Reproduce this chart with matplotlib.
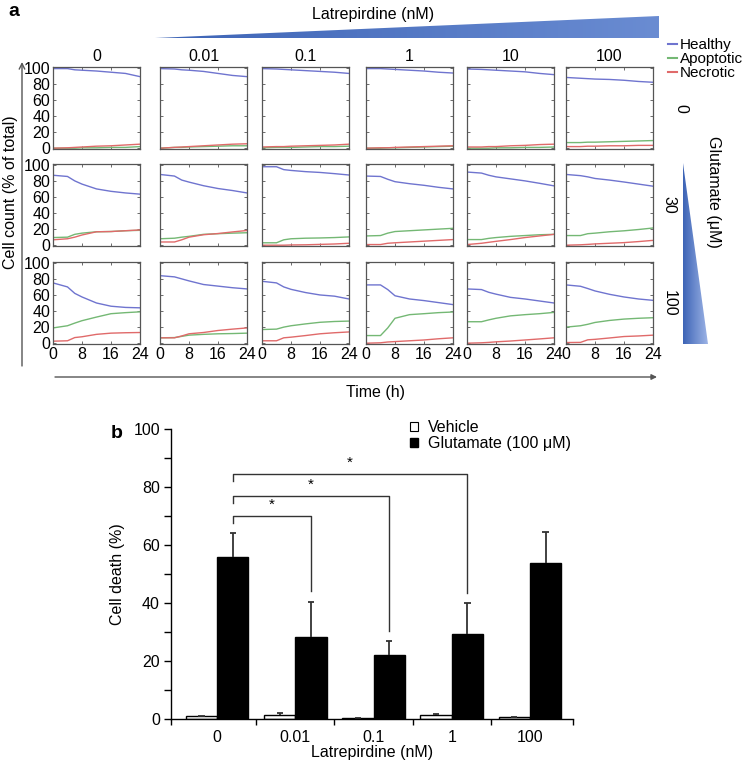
import numpy as np
import matplotlib
matplotlib.use('Agg')
import matplotlib.pyplot as plt
from matplotlib.patches import Polygon, Patch
from matplotlib.lines import Line2D
from matplotlib.colors import LinearSegmentedColormap

plt.rcParams['font.family'] = ['Liberation Sans', 'DejaVu Sans']

# ---- panel a data: % of cells over time ----
times = [0, 4, 6, 8, 12, 16, 20, 24]
latrepirdine_labels = ['0', '0.01', '0.1', '1', '10', '100']
glutamate_labels = ['0', '30', '100']

healthy_glu0 = [
    [99, 99, 97.5, 97, 96, 94.5, 93, 89],
    [99, 98.5, 97.5, 97, 95.5, 93, 90.5, 89],
    [99, 98.5, 98, 97.5, 96.5, 95.5, 94.5, 93],
    [99, 99, 98.5, 98, 97, 96, 94.5, 93.5],
    [98.5, 98, 97.5, 97, 96, 95, 93, 91.5],
    [88, 87, 86.5, 86, 85.5, 84.5, 83, 82],
]
apoptotic_glu0 = [
    [0, 0, 0, 0.5, 0.5, 1, 1, 2],
    [0, 1, 1, 1.5, 2, 2.5, 3, 3],
    [0.5, 1, 1, 1, 1.5, 2, 2, 2.5],
    [0, 0, 0.5, 0.5, 1, 1.5, 2, 2.5],
    [0, 0, 0, 0.5, 0.5, 1, 1, 1.5],
    [7, 7, 7.5, 7.5, 8, 8.5, 9, 9.5],
]
necrotic_glu0 = [
    [0, 0.5, 1, 1.5, 2.5, 3, 4, 5],
    [0, 1, 1.5, 2, 3, 4, 5, 5.5],
    [1.5, 2, 2, 2.5, 3, 3.5, 4, 5],
    [0, 0.5, 0.5, 1, 1.5, 2, 2.5, 3],
    [1.5, 1.5, 2, 2, 3, 3.5, 4.5, 5],
    [2, 2, 2.5, 2.5, 3, 3, 3.5, 3.5],
]

healthy_glu30 = [
    [87, 85.5, 80, 76, 70, 67, 65, 63.5],
    [88, 86, 81, 78.5, 74, 70.5, 68, 65],
    [97.6, 97.6, 94, 93, 91.5, 90.5, 89, 87.3],
    [86, 85.5, 82, 79, 76.5, 74.5, 72, 70],
    [91, 89.7, 87, 85, 82.5, 80, 77, 73.8],
    [88, 86.5, 85, 83, 81, 78.6, 76, 73.4],
]
apoptotic_glu30 = [
    [9.5, 10, 13.5, 15, 16.7, 17, 18, 18.5],
    [8, 8.7, 10, 11, 13.5, 14.3, 15, 15.5],
    [3, 3, 6.7, 8, 8.7, 9, 9.5, 10.3],
    [11.5, 12, 15, 17, 18, 19, 20, 21],
    [7, 7, 8.5, 9.5, 11, 12, 13, 13.5],
    [12, 12, 14.3, 15, 16.7, 17.9, 19.5, 21.4],
]
necrotic_glu30 = [
    [6.7, 8, 10, 12.7, 16.7, 17, 18, 19],
    [4, 4, 6.7, 10, 13, 14.5, 16.5, 18.3],
    [0, 0, 0, 0.3, 0.5, 1, 1.5, 2.4],
    [0.8, 0.8, 2.4, 3, 4, 5, 6, 7],
    [0.8, 2.4, 3.6, 4.8, 7, 9.5, 11.5, 13.5],
    [0, 0.5, 1, 1.6, 2.4, 3.2, 4.5, 6],
]

healthy_glu100 = [
    [75, 70, 62, 57.5, 50, 46, 44.5, 44],
    [84, 82.5, 80, 77.5, 73, 71, 69, 67.5],
    [77, 75, 70, 67, 63, 60, 58.5, 55],
    [72.5, 72.5, 66.7, 59, 55, 53, 50.5, 48],
    [67.5, 66.7, 63.3, 61, 57, 55, 52.5, 50],
    [72.5, 70.8, 68, 65, 60.8, 57.5, 55, 53.3],
]
apoptotic_glu100 = [
    [19, 21.7, 25, 28, 32.5, 36.7, 38, 39],
    [6.7, 7, 8.5, 10, 11, 11.7, 12, 12.5],
    [17, 17.5, 20, 21.7, 24, 26, 27, 27.5],
    [9.5, 9.5, 19, 31, 35.5, 36.7, 38, 38.8],
    [26.7, 26.7, 29, 31, 34, 35.5, 36.7, 38.3],
    [20, 21.7, 23.5, 25.8, 28.3, 30, 31, 31.7],
]
necrotic_glu100 = [
    [2.5, 3, 7, 8, 11, 12.5, 13, 13.3],
    [6.7, 6.7, 9, 11.7, 13.3, 15.8, 17.5, 19],
    [3, 3, 6.7, 7.5, 9.5, 11.7, 13, 14],
    [0, 0.5, 1.5, 2, 3, 4, 5.5, 6.7],
    [0, 0.5, 1, 1.7, 2.7, 4, 5.3, 6.7],
    [0.8, 1, 4.2, 4.8, 6.5, 8.3, 9, 10],
]

# ---- panel b data: cell death (%) ----
b_labels = ['0', '0.01', '0.1', '1', '100']
vehicle_mean = [1.0, 1.3, 0.5, 1.3, 0.8]
vehicle_err = [0, 0.7, 0, 0.4, 0]
glutamate_mean = [56.0, 28.3, 22.1, 29.3, 53.9]
glutamate_err = [8.2, 12.2, 4.9, 10.7, 10.6]
sig_pairs = [(0, 1), (0, 2), (0, 3)]

healthy = [healthy_glu0, healthy_glu30, healthy_glu100]
apoptotic = [apoptotic_glu0, apoptotic_glu30, apoptotic_glu100]
necrotic = [necrotic_glu0, necrotic_glu30, necrotic_glu100]

W, H = 751, 763
fig = plt.figure(figsize=(W / 100, H / 100), dpi=100)


def px_axes(x0, y0, x1, y1, **kw):
    # axes from pixel box (top-left origin)
    return fig.add_axes([x0 / W, 1 - y1 / H, (x1 - x0) / W, (y1 - y0) / H], **kw)


# background overlay for decorations
bg = fig.add_axes([0, 0, 1, 1], zorder=-1)
bg.axis('off')

c_h, c_a, c_n = '#6f74cf', '#74b874', '#e06a6a'
spine_c = '#555555'

col_x = [53, 160, 262, 366, 467, 566]
row_y = [67, 164, 262]
row_label_x = [681, 669, 669]
pw, ph = 87, 82

for r in range(3):
    for c in range(6):
        ax = px_axes(col_x[c], row_y[r], col_x[c] + pw, row_y[r] + ph)
        ax.plot(times, healthy[r][c], color=c_h, lw=1.0)
        ax.plot(times, apoptotic[r][c], color=c_a, lw=1.0)
        ax.plot(times, necrotic[r][c], color=c_n, lw=1.0)
        ax.set_xlim(0, 24)
        ax.set_ylim(-1, 101)
        ax.set_xticks([0, 8, 16, 24])
        ax.set_yticks([0, 20, 40, 60, 80, 100])
        ax.tick_params(direction='in', length=2, width=0.6, colors=spine_c,
                       labelcolor='black', labelsize=11.5, pad=2,
                       top=True, right=True)
        if c != 0:
            ax.set_yticklabels([])
        if r != 2:
            ax.set_xticklabels([])
        for s in ax.spines.values():
            s.set_color(spine_c)
            s.set_linewidth(0.9)
        if r == 0:
            ax.set_title(latrepirdine_labels[c], fontsize=11.5, pad=4)
    fig.text(row_label_x[r] / W, 1 - (row_y[r] + ph / 2) / H, glutamate_labels[r],
             rotation=-90, ha='center', va='center', fontsize=11.5)

# panel a legend
fig.legend([Line2D([], [], color=c_h), Line2D([], [], color=c_a),
            Line2D([], [], color=c_n)],
           ['Healthy', 'Apoptotic', 'Necrotic'],
           loc='upper left', bbox_to_anchor=(668 / W, 1 - 38 / H),
           frameon=False, fontsize=11, handlelength=0.6, handletextpad=0.2,
           labelspacing=0.0, borderpad=0, borderaxespad=0)

# wedges
wedge_top = Polygon([(155, 38), (659, 38), (659, 16)], closed=True,
                    facecolor='none', edgecolor='none')
bg.add_patch(wedge_top)
g = np.linspace(0, 1, 256).reshape(1, -1)
im1 = bg.imshow(g, extent=[155, 659, 38, 16], aspect='auto',
                cmap=LinearSegmentedColormap.from_list('w1', ['#3d64b6', '#6a8cd2']))
im1.set_clip_path(wedge_top)

wedge_side = Polygon([(683, 163), (683, 344), (708, 344)], closed=True,
                     facecolor='none', edgecolor='none')
bg.add_patch(wedge_side)
im2 = bg.imshow(g, extent=[683, 708, 344, 163], aspect='auto',
                cmap=LinearSegmentedColormap.from_list('w2', ['#3d64b6', '#9db4e6']))
im2.set_clip_path(wedge_side)
bg.set_xlim(0, W)
bg.set_ylim(H, 0)

# arrows
bg.annotate('', xy=(22, 62), xytext=(22, 366),
            arrowprops=dict(arrowstyle='->', color=spine_c, lw=1.0,
                            shrinkA=0, shrinkB=0))
bg.annotate('', xy=(657, 377), xytext=(55, 377),
            arrowprops=dict(arrowstyle='-|>', color=spine_c, lw=1.0,
                            mutation_scale=8, shrinkA=0, shrinkB=0))

fig.text(8 / W, 1 - 12 / H, 'a', fontsize=14, fontweight='bold', va='center')
fig.text(373 / W, 1 - 14 / H, 'Latrepirdine (nM)', fontsize=11.5,
         ha='center', va='center')
fig.text(11 / W, 1 - 192 / H, 'Cell count (% of total)', fontsize=11.5,
         rotation=90, ha='center', va='center')
fig.text(713 / W, 1 - 192 / H, 'Glutamate (\u03bcM)', fontsize=11.5,
         rotation=-90, ha='center', va='center')
fig.text(375 / W, 1 - 392 / H, 'Time (h)', fontsize=11.5,
         ha='center', va='center')

# ---- panel b ----
bx = px_axes(171, 429, 573, 719)
x = np.arange(len(b_labels))
bw = 0.4
cw = 0.04
bx.bar(x - bw / 2, vehicle_mean, bw, color='white', edgecolor='black', lw=1)
bx.bar(x + bw / 2, glutamate_mean, bw, color='black', edgecolor='black', lw=1)
for xs, m, e in [(x - bw / 2, vehicle_mean, vehicle_err),
                 (x + bw / 2, glutamate_mean, glutamate_err)]:
    top = np.array(m) + np.array(e)
    bx.vlines(xs, m, top, color='#333333', lw=1.3)
    bx.hlines(top, xs - cw, xs + cw, color='#333333', lw=1.3)

bx.set_xlim(-0.59, 4.55)
bx.set_ylim(0, 100)
bx.set_xticks([-0.59, 0.5, 1.5, 2.5, 3.5, 4.55])
bx.set_xticklabels([])
bx.set_xticks(x, minor=True)
bx.set_xticklabels(b_labels, minor=True)
bx.tick_params(axis='x', which='major', direction='out', length=4, width=1)
bx.tick_params(axis='x', which='minor', length=0, pad=8, labelsize=11.5)
bx.set_yticks(np.arange(0, 101, 10))
bx.set_yticklabels([str(v) if v % 20 == 0 else '' for v in range(0, 101, 10)])
bx.tick_params(axis='y', direction='out', length=5, width=1, labelsize=11.5, pad=3)
for s in ['top', 'right']:
    bx.spines[s].set_visible(False)
for s in ['left', 'bottom']:
    bx.spines[s].set_linewidth(1.0)
bx.set_ylabel('Cell death (%)', fontsize=11.5, labelpad=6)
bx.set_xlabel('Latrepirdine (nM)', fontsize=11.5, labelpad=0)

# significance brackets
tops = np.array(glutamate_mean) + np.array(glutamate_err)
levels = [70, 77, 84.5]
for (i, j), h in zip(sig_pairs, levels):
    xa, xb = i + bw / 2, j + bw / 2
    bx.plot([xa, xa, xb, xb], [h - 2.5, h, h, tops[j] + 3.5],
            color='#333333', lw=1.0, clip_on=False)
    bx.text((xa + xb) / 2, h + 1.5, '*', ha='center', va='bottom', fontsize=11)

fig.legend([Patch(facecolor='white', edgecolor='black', lw=0.8),
            Patch(facecolor='black', edgecolor='black')],
           ['Vehicle', 'Glutamate (100 \u03bcM)'],
           loc='upper left', bbox_to_anchor=(410 / W, 1 - 420 / H),
           frameon=False, fontsize=11.5, handlelength=0.5, handleheight=0.5,
           handletextpad=0.6, labelspacing=0.05, borderpad=0, borderaxespad=0)

fig.text(117 / W, 1 - 433 / H, 'b', fontsize=14, fontweight='bold',
         ha='center', va='center')

fig.savefig('out.png', dpi=100)
